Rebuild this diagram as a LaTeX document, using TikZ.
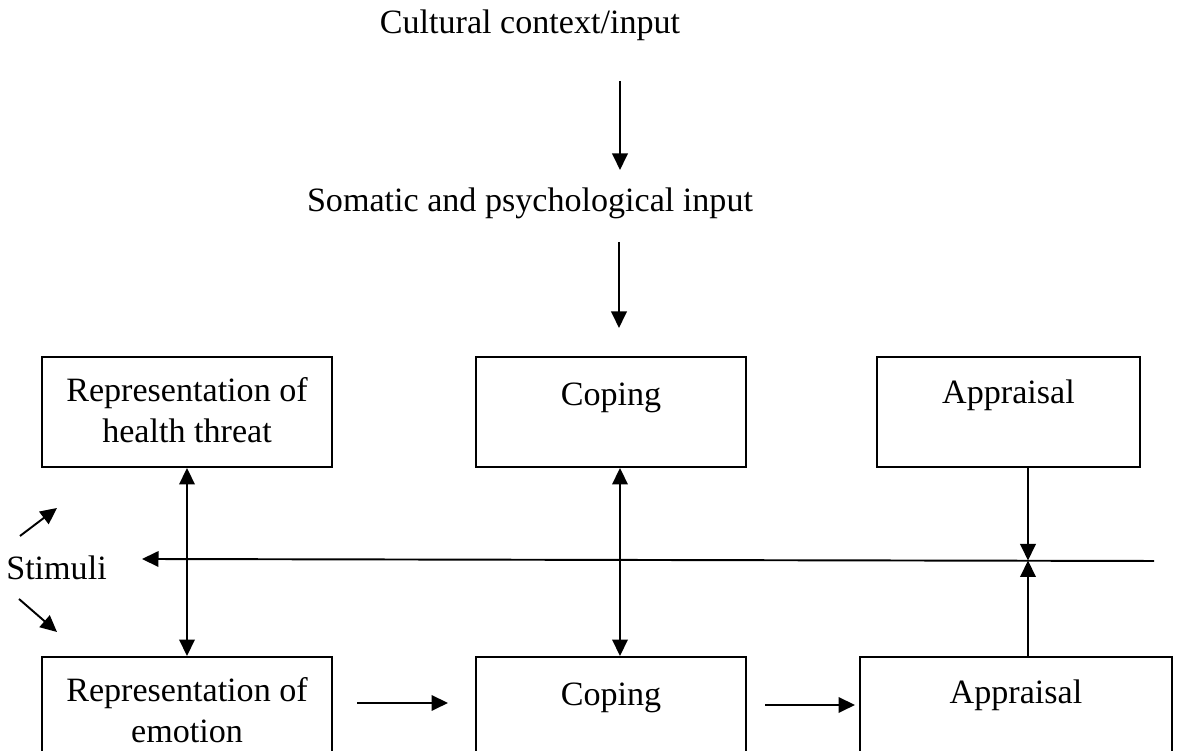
\documentclass[tikz,border=0pt]{standalone}
\usepackage{fontspec}
\setmainfont{Liberation Serif}
\usetikzlibrary{arrows.meta,positioning}

\begin{document}
\begin{tikzpicture}[>={Triangle[length=3.3mm,width=3.1mm]},line width=1.1pt,
  font=\fontsize{19.4}{23}\selectfont,
  box/.style={draw,minimum height=2.2cm,inner sep=0pt},
  boxtext/.style={anchor=north,align=center,yshift=-0.3cm}]
\useasboundingbox (0,0) rectangle (23.54,15.02);
% inputs on top
\node (cult) at (10.6,14.52) {Cultural context/input};
\node (soma) at (10.6,10.96) {Somatic and psychological input};
\coordinate (c1) at (12.4,13.4);
\coordinate (c2) at (12.4,11.62);
\coordinate (s1) at (12.38,10.18);
\coordinate (s2) at (12.38,8.46);
\draw[->] (c1) -- (c2);
\draw[->] (s1) -- (s2);
% upper row
\node[box,minimum width=5.8cm] (rep1) at (3.74,6.78) {};
\node[box,minimum width=5.4cm] (cop1) at (12.22,6.78) {};
\node[box,minimum width=5.26cm] (app1) at (20.17,6.78) {};
\node[boxtext] (rep1t) at (rep1.north) {Representation of\\health threat};
\node[boxtext,yshift=-0.1cm] (cop1t) at (cop1.north) {Coping};
\node[boxtext,yshift=-0.04cm] (app1t) at (app1.north) {Appraisal};
% lower row (cut off by the page edge)
\node[box,minimum width=5.8cm] (rep2) at (3.74,0.78) {};
\node[box,minimum width=5.4cm] (cop2) at (12.22,0.78) {};
\node[box,minimum width=6.24cm] (app2) at (20.32,0.78) {};
\node[boxtext] (rep2t) at (rep2.north) {Representation of\\emotion};
\node[boxtext,yshift=-0.1cm] (cop2t) at (cop2.north) {Coping};
\node[boxtext,yshift=-0.04cm] (app2t) at (app2.north) {Appraisal};
% stimuli
\node (stim) at (1.13,3.66) {Stimuli};
\coordinate (st1) at (0.4,4.3);
\coordinate (st2) at (1.14,4.86);
\coordinate (st3) at (0.38,3.04);
\coordinate (st4) at (1.14,2.38);
\draw[->] (st1) -- (st2);
\draw[->] (st3) -- (st4);
% feedback line
\coordinate (hr) at (23.08,3.8);
\coordinate (hl) at (2.84,3.84);
\coordinate (cross) at (20.56,3.81);
\draw[->] (hr) -- (hl);
\draw[->] (app1.south -| cross) -- (cross);
\draw[->] (app2.north -| cross) -- (cross);
% links between rows
\draw[<->] (rep1.south) -- (rep2.north);
\draw[<->] ([xshift=1.8mm]cop1.south) -- ([xshift=1.8mm]cop2.north);
\coordinate (b1) at (7.14,0.96);
\coordinate (b2) at (8.96,0.96);
\coordinate (b3) at (15.3,0.92);
\coordinate (b4) at (17.1,0.92);
\draw[->] (b1) -- (b2);
\draw[->] (b3) -- (b4);
\end{tikzpicture}
\end{document}
